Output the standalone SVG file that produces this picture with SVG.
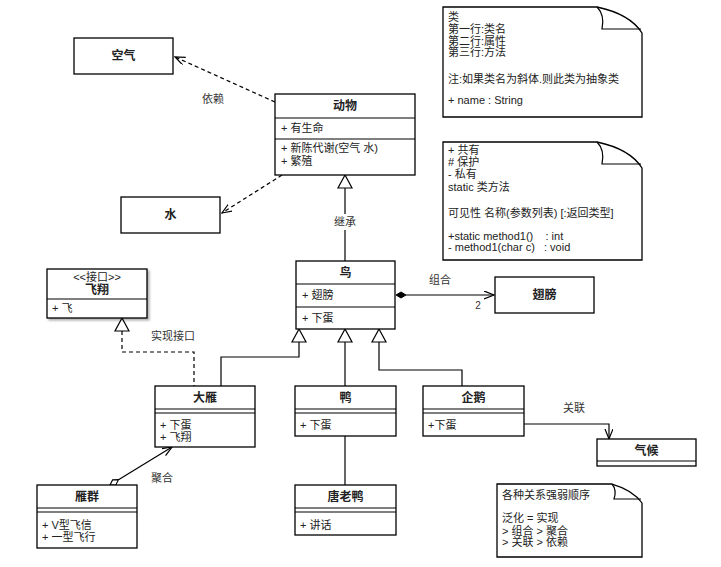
<svg xmlns="http://www.w3.org/2000/svg" width="721" height="567" viewBox="0 0 721 567">
<defs>
<style>
text{font-family:"Liberation Sans","Noto Sans CJK SC",sans-serif;font-size:11px;fill:#222}
.n{font-size:12px;font-weight:bold;text-anchor:middle}
.c{text-anchor:middle}
.lb{fill:#333;text-anchor:middle}
.box{fill:#fff;stroke:#000;stroke-width:1.3}
.ln{stroke:#000;stroke-width:1.2;fill:none}
.dash{stroke:#000;stroke-width:1.2;fill:none;stroke-dasharray:4,3}
.tri{fill:#fff;stroke:#000;stroke-width:1.2}
.note{fill:#fff;stroke:#000;stroke-width:1.3}
</style>
<marker id="open" markerUnits="userSpaceOnUse" markerWidth="12" markerHeight="10" refX="10" refY="4" orient="auto" viewBox="0 0 12 10">
<path d="M0,0 L10,4 L0,8" fill="none" stroke="#000" stroke-width="1.2"/>
</marker>
<filter id="sh" x="-10%" y="-10%" width="130%" height="130%"><feDropShadow dx="2" dy="2" stdDeviation="1" flood-color="#000" flood-opacity="0.3"/></filter>
</defs>
<rect width="721" height="567" fill="#fff"/>

<g id="connectors">
<line class="dash" x1="275" y1="102" x2="175" y2="57" marker-end="url(#open)"/>
<text class="lb" x="213" y="103">依赖</text>
<line class="dash" x1="282" y1="175" x2="222" y2="213" marker-end="url(#open)"/>
<line class="ln" x1="345" y1="188" x2="345" y2="261"/>
<rect x="330" y="214" width="30" height="16" fill="#fff"/>
<text class="lb" x="345" y="226">继承</text>
<polygon class="tri" points="345,175 338,188 352,188"/>
<polyline class="ln" points="406,295 494,295" marker-end="url(#open)"/>
<polygon points="396,295 401,292 406,295 401,298" fill="#000" stroke="#000"/>
<text class="lb" x="440" y="284">组合</text>
<text class="lb" x="478" y="309" style="font-size:10px">2</text>
<polyline class="dash" points="122,331 122,352 194,352 194,386"/>
<polygon class="tri" points="122,318 115,331 129,331"/>
<text class="lb" x="173" y="340">实现接口</text>
<polyline class="ln" points="221,386 221,357 299,357 299,342"/>
<polygon class="tri" points="299,329 292,342 306,342"/>
<line class="ln" x1="345" y1="386" x2="345" y2="342"/>
<polygon class="tri" points="345,329 338,342 352,342"/>
<polyline class="ln" points="462,386 462,370 379,370 379,342"/>
<polygon class="tri" points="379,329 372,342 386,342"/>
<polyline class="ln" points="524,424 609,424 609,439" marker-end="url(#open)"/>
<text class="lb" x="574" y="412">关联</text>
<line class="ln" x1="345" y1="436" x2="345" y2="485"/>
<line class="ln" x1="118.5" y1="479.7" x2="172" y2="447" marker-end="url(#open)"/>
<polygon points="110,485 115.8,484.9 118.5,479.7 112.6,479.9" fill="#fff" stroke="#000" stroke-width="1.1"/>
<text class="lb" x="162" y="482">聚合</text>
</g>

<g id="kongqi">
<rect class="box" x="74" y="38" width="99" height="36"/>
<text class="n" x="123.5" y="60">空气</text>
</g>

<g id="shui">
<rect class="box" x="121" y="197" width="99" height="36"/>
<text class="n" x="170.5" y="219">水</text>
</g>

<g id="dongwu">
<rect class="box" x="275" y="94" width="140" height="81"/>
<line class="ln" x1="275" y1="118" x2="415" y2="118"/>
<line class="ln" x1="275" y1="139" x2="415" y2="139"/>
<text class="n" x="345" y="110">动物</text>
<text x="281" y="132">+ 有生命</text>
<text x="281" y="152">+ 新陈代谢(空气 水)</text>
<text x="281" y="165">+ 繁殖</text>
</g>

<g id="niao">
<rect class="box" x="296" y="261" width="99" height="68"/>
<line class="ln" x1="296" y1="284" x2="395" y2="284"/>
<line class="ln" x1="296" y1="307" x2="395" y2="307"/>
<text class="n" x="345.5" y="277">鸟</text>
<text x="302" y="299">+ 翅膀</text>
<text x="302" y="322">+ 下蛋</text>
</g>

<g id="chibang">
<rect class="box" x="495" y="277" width="99" height="36"/>
<text class="n" x="544.5" y="299">翅膀</text>
</g>

<g id="feixiang">
<rect class="box" x="47" y="269" width="100" height="49" filter="url(#sh)"/>
<line class="ln" x1="47" y1="299" x2="147" y2="299"/>
<text class="c" x="97" y="281">&lt;&lt;接口&gt;&gt;</text>
<text class="n" x="97" y="294">飞翔</text>
<text x="52" y="312">+ 飞</text>
</g>

<g id="dayan">
<rect class="box" x="155" y="386" width="100" height="61"/>
<line class="ln" x1="155" y1="409" x2="255" y2="409"/>
<line class="ln" x1="155" y1="413" x2="255" y2="413"/>
<text class="n" x="205" y="402">大雁</text>
<text x="160" y="429">+ 下蛋</text>
<text x="160" y="441">+ 飞翔</text>
</g>

<g id="ya">
<rect class="box" x="295" y="386" width="101" height="50"/>
<line class="ln" x1="295" y1="409" x2="396" y2="409"/>
<line class="ln" x1="295" y1="413" x2="396" y2="413"/>
<text class="n" x="345.5" y="402">鸭</text>
<text x="300" y="429">+ 下蛋</text>
</g>

<g id="qie">
<rect class="box" x="423" y="386" width="101" height="50"/>
<line class="ln" x1="423" y1="409" x2="524" y2="409"/>
<line class="ln" x1="423" y1="413" x2="524" y2="413"/>
<text class="n" x="473.5" y="402">企鹅</text>
<text x="428" y="429">+下蛋</text>
</g>

<g id="qihou">
<rect class="box" x="597" y="439" width="99" height="27"/>
<line class="ln" x1="597" y1="461" x2="696" y2="461"/>
<text class="n" x="646.5" y="455">气候</text>
</g>

<g id="tanglaoya">
<rect class="box" x="295" y="485" width="101" height="50"/>
<line class="ln" x1="295" y1="508" x2="396" y2="508"/>
<line class="ln" x1="295" y1="512" x2="396" y2="512"/>
<text class="n" x="345.5" y="501">唐老鸭</text>
<text x="300" y="529">+ 讲话</text>
</g>

<g id="yanqun">
<rect class="box" x="37" y="485" width="100" height="63"/>
<line class="ln" x1="37" y1="508" x2="137" y2="508"/>
<line class="ln" x1="37" y1="512" x2="137" y2="512"/>
<text class="n" x="87" y="501">雁群</text>
<text x="42" y="529">+ V型飞信</text>
<text x="42" y="541">+ 一型飞行</text>
</g>

<g id="note1">
<path class="note" d="M443,7 L597,7 Q630,14 642,33 L642,117 L443,117 Z"/>
<path class="ln" d="M597,7 Q605,15 602,29 L641,29"/>
<text x="448" y="21">类</text>
<text x="448" y="33">第一行:类名</text>
<text x="448" y="45">第二行:属性</text>
<text x="448" y="56">第三行:方法</text>
<text x="448" y="83">注:如果类名为斜体.则此类为抽象类</text>
<text x="448" y="104">+ name : String</text>
</g>

<g id="note2">
<path class="note" d="M443,142 L597,142 Q630,149 642,168 L642,260 L443,260 Z"/>
<path class="ln" d="M597,142 Q605,150 602,164 L641,164"/>
<text x="448" y="154">+ 共有</text>
<text x="448" y="166"># 保护</text>
<text x="448" y="178">- 私有</text>
<text x="448" y="191">static 类方法</text>
<text x="448" y="217">可见性 名称(参数列表) [:返回类型]</text>
<text x="448" y="240" xml:space="preserve">+static method1()    : int</text>
<text x="448" y="251" xml:space="preserve">- method1(char c)   : void</text>
</g>

<g id="note3">
<path class="note" d="M497,484 L612,484 Q633,490 642,503 L642,557 L497,557 Z"/>
<path class="ln" d="M612,484 Q617,490 614,499 L641,499"/>
<text x="502" y="499">各种关系强弱顺序</text>
<text x="502" y="522">泛化 = 实现</text>
<text x="502" y="535">&gt; 组合 &gt; 聚合</text>
<text x="502" y="546">&gt; 关联 &gt; 依赖</text>
</g>
</svg>
